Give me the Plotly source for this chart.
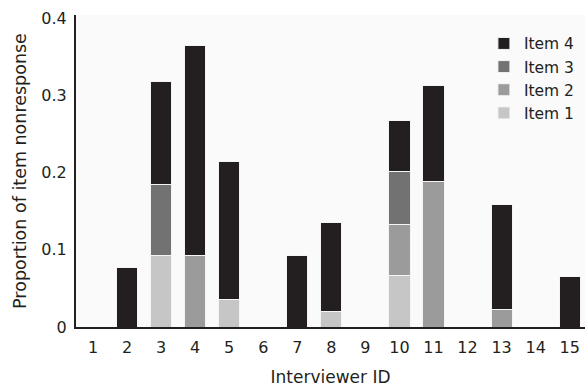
import plotly.graph_objects as go

interviewers = list(range(1, 16))
item1 = [0, 0, 0.092, 0, 0.036, 0, 0, 0.020, 0, 0.067, 0, 0, 0, 0, 0]
item2 = [0, 0, 0, 0.092, 0, 0, 0, 0, 0, 0.066, 0.189, 0, 0.023, 0, 0]
item3 = [0, 0, 0.093, 0, 0, 0, 0, 0, 0, 0.068, 0, 0, 0, 0, 0]
item4 = [0, 0.077, 0.133, 0.272, 0.178, 0, 0.093, 0.115, 0, 0.066, 0.124, 0, 0.136, 0, 0.066]

series = [("Item 1", item1, "#c6c6c7"),
          ("Item 2", item2, "#9b9b9c"),
          ("Item 3", item3, "#727273"),
          ("Item 4", item4, "#231f20")]

FONT = "DejaVu Sans"
fig = go.Figure()
for name, vals, col in series:
    fig.add_trace(go.Bar(x=interviewers, y=vals, name=name, width=0.62,
                         marker=dict(color=col, line=dict(color="#f4f4f4", width=1))))

fig.update_layout(
    barmode="stack",
    width=585, height=387,
    margin=dict(l=76, r=0, t=15, b=60, autoexpand=False),
    paper_bgcolor="white",
    plot_bgcolor="#fafafa",
    font=dict(family=FONT, size=16, color="#231f20"),
    showlegend=True,
    legend=dict(traceorder="reversed", x=0.99, xanchor="right", y=0.962, yanchor="top",
                bgcolor="rgba(0,0,0,0)", font=dict(family=FONT, size=15.5),
                itemwidth=30, borderwidth=0),
    xaxis=dict(range=[0.5, 15.45], tickmode="array", tickvals=interviewers,
               ticktext=[str(i) for i in interviewers], showgrid=False, zeroline=False,
               showline=True, linecolor="#231f20", linewidth=2, ticks="",
               ticklabelstandoff=5, automargin=False,
               title=dict(text="Interviewer ID", font=dict(size=17), standoff=15)),
    yaxis=dict(range=[0, 0.404], tickmode="array", tickvals=[0, 0.1, 0.2, 0.3, 0.4],
               ticktext=["0", "0.1", "0.2", "0.3", "0.4"], showgrid=False, zeroline=False,
               showline=True, linecolor="#231f20", linewidth=2, ticks="",
               ticklabelstandoff=4, automargin=False,
               title=dict(text="Proportion of item nonresponse", font=dict(size=17.5), standoff=10)),
)

fig.write_html("out.html", config={"displayModeBar": False},
               post_script="document.body.style.margin='0';")
